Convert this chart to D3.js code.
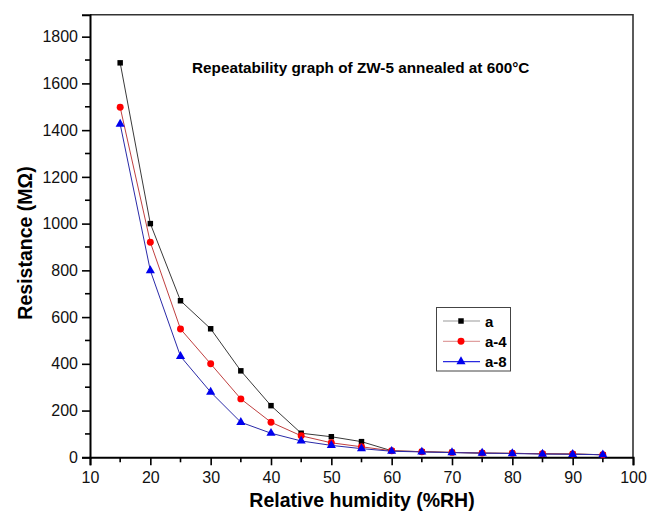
<!DOCTYPE html>
<html><head><meta charset="utf-8">
<script src="https://cdn.jsdelivr.net/npm/d3@7"></script>
<style>body{margin:0;background:#fff}svg{display:block}text{font-family:"Liberation Sans",Arial,sans-serif}</style>
</head><body><svg id="c" width="651" height="514"></svg>
<script>
const humidity = [15,20,25,30,35,40,45,50,55,60,65,70,75,80,85,90,95];
const seriesA  = [1688,1000,670,550,370,221,103,88,67,28,24,21,18,17,15,14,11];
const seriesA4 = [1498,920,549,400,250,150,92,62,45,28,24,21,18,17,15,14,11];
const seriesA8 = [1426,799,432,279,150,103,70,51,37,26,23,20,18,16,14,13,11];
const seriesNames = ["a","a-4","a-8"];
const xTicks = [10,20,30,40,50,60,70,80,90,100];
const yTicks = [0,200,400,600,800,1000,1200,1400,1600,1800];

const svg = d3.select("#c");
const x = d3.scaleLinear().domain([10,100]).range([90,633]);
const y = d3.scaleLinear().domain([0,1894]).range([457.3,14.7]);

const series = [
  {name:seriesNames[0], vals:seriesA,  line:"#3a3a3a", fill:"#000", shape:d3.symbolSquare, size:30},
  {name:seriesNames[1], vals:seriesA4, line:"#c04040", fill:"#f00", shape:d3.symbolCircle, size:38},
  {name:seriesNames[2], vals:seriesA8, line:"#2a2aa8", fill:"#0000ee", shape:d3.symbolTriangle, size:36}
];

// frame top & right
svg.append("path").attr("d",`M${x(10)},${y(1894)}H${x(100)}V${y(0)}`)
  .attr("fill","none").attr("stroke","#333").attr("stroke-width",1.6);

// axes
const xAxis = d3.axisBottom(x).tickValues(xTicks).tickSize(8).tickPadding(6).tickFormat(d3.format("d"));
const gx = svg.append("g").attr("transform",`translate(0,${y(0)})`).call(xAxis);
const yAxis = d3.axisLeft(y).tickValues(yTicks).tickSize(8).tickPadding(4).tickFormat(d3.format("d"));
const gy = svg.append("g").attr("transform",`translate(${x(10)},0)`).call(yAxis);
[gx,gy].forEach(g=>{
  g.select(".domain").attr("stroke","#000").attr("stroke-width",2);
  g.selectAll(".tick line").attr("stroke","#000").attr("stroke-width",1.6);
  g.selectAll(".tick text").attr("font-size",16).attr("fill","#111").attr("font-family","Liberation Sans, Arial, sans-serif");
});
// minor ticks
const xMinor = d3.range(15,100,10);
svg.append("g").selectAll("line").data(xMinor).join("line")
  .attr("x1",d=>x(d)).attr("x2",d=>x(d)).attr("y1",y(0)).attr("y2",y(0)+5)
  .attr("stroke","#000").attr("stroke-width",1.6);
const yMinor = d3.range(100,1900,200);
svg.append("g").selectAll("line").data(yMinor).join("line")
  .attr("x1",x(10)-5).attr("x2",x(10)).attr("y1",d=>y(d)).attr("y2",d=>y(d))
  .attr("stroke","#000").attr("stroke-width",1.6);

// lines & markers
const line = d3.line().x((d,i)=>x(humidity[i])).y(d=>y(d));
series.forEach(s=>{
  svg.append("path").datum(s.vals).attr("d",line).attr("fill","none")
    .attr("stroke",s.line).attr("stroke-width",1);
});
series.forEach(s=>{
  svg.append("g").selectAll("path").data(s.vals).join("path")
    .attr("d",d3.symbol().type(s.shape).size(s.size))
    .attr("transform",(d,i)=>`translate(${x(humidity[i])},${y(d)})`)
    .attr("fill",s.fill);
});

// title
svg.append("text").attr("x",192).attr("y",73).attr("font-size",15.3).attr("font-weight","bold")
  .attr("fill","#000").text("Repeatability graph of ZW-5 annealed at 600°C");

// axis titles
svg.append("text").attr("x",362).attr("y",507).attr("text-anchor","middle")
  .attr("font-size",19.5).attr("font-weight","bold").text("Relative humidity (%RH)");
svg.append("text").attr("transform","translate(32,243) rotate(-90)").attr("text-anchor","middle")
  .attr("font-size",19.5).attr("font-weight","bold").text("Resistance (MΩ)");

// legend
const lg = svg.append("g");
lg.append("rect").attr("x",436.5).attr("y",307.5).attr("width",74).attr("height",63.5)
  .attr("fill","#fff").attr("stroke","#444").attr("stroke-width",1);
const legLine = ["#999","#e0a0a0","#2a2ae0"];
series.forEach((s,i)=>{
  const ly = 321 + i*20.3;
  lg.append("line").attr("x1",443).attr("x2",480).attr("y1",ly).attr("y2",ly)
    .attr("stroke",legLine[i]).attr("stroke-width",1.2);
  lg.append("path").attr("d",d3.symbol().type(s.shape).size(s.size))
    .attr("transform",`translate(461,${ly})`).attr("fill",s.fill);
  lg.append("text").attr("x",485).attr("y",ly+5.5).attr("font-size",15).attr("font-weight","bold")
    .text(s.name);
});
</script></body></html>
